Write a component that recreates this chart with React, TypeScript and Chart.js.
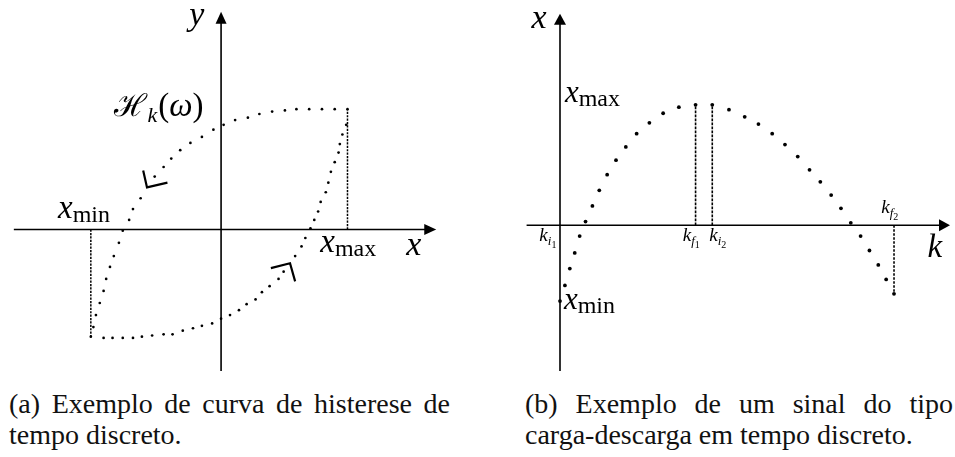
import React, { useEffect, useRef } from "react";
import { Chart, registerables } from "chart.js";

Chart.register(...registerables);

// ---------- Panel (a): discrete-time hysteresis loop ----------
// descending branch, from x_max back to x_min
const upperX = [0.99, 0.89, 0.79, 0.69, 0.59, 0.5, 0.4, 0.3, 0.21, 0.11, 0.02, -0.06, -0.15, -0.24, -0.32, -0.39, -0.45, -0.52, -0.63, -0.69, -0.72, -0.77, -0.8, -0.84, -0.87, -0.9, -0.92, -0.95, -0.98, -1.0, -1.02];
const upperY = [1.0, 1.0, 1.0, 1.0, 1.0, 0.99, 0.98, 0.96, 0.93, 0.91, 0.87, 0.83, 0.77, 0.72, 0.66, 0.59, 0.52, 0.44, 0.26, 0.17, 0.08, -0.01, -0.11, -0.22, -0.31, -0.41, -0.51, -0.61, -0.71, -0.81, -0.89];
// ascending branch, from x_min up to x_max
const lowerX = [-0.92, -0.85, -0.77, -0.69, -0.62, -0.54, -0.45, -0.38, -0.3, -0.22, -0.15, -0.07, 0.0, 0.07, 0.14, 0.2, 0.27, 0.32, 0.38, 0.45, 0.49, 0.58, 0.63, 0.66, 0.7, 0.73, 0.76, 0.78, 0.82, 0.84, 0.86, 0.89, 0.92, 0.93, 0.95, 0.98];
const lowerY = [-0.9, -0.9, -0.9, -0.9, -0.89, -0.88, -0.87, -0.87, -0.84, -0.82, -0.8, -0.78, -0.74, -0.71, -0.67, -0.62, -0.58, -0.52, -0.47, -0.41, -0.35, -0.22, -0.14, -0.07, 0.01, 0.08, 0.15, 0.23, 0.31, 0.39, 0.48, 0.56, 0.64, 0.71, 0.79, 0.87];
const loopXMax = 0.99;
const loopXMin = -1.02;
const loopTop = 1.0;
const loopBottom = -0.9;
// direction chevrons on each branch
const upperArrowX = [-0.61, -0.58, -0.42];
const upperArrowY = [0.49, 0.35, 0.39];
const lowerArrowX = [0.39, 0.54, 0.58];
const lowerArrowY = [-0.32, -0.28, -0.43];

// ---------- Panel (b): charge-discharge signal ----------
const signalK = [0, 0.5, 1.0, 1.5, 2.0, 2.6, 3.3, 4.0, 4.8, 5.7, 6.7, 7.8, 9.1, 10.5, 12.1, 13.8, 15.5, 17.2, 18.8, 20.2, 21.6, 22.9, 24.2, 25.4, 26.5, 27.6, 28.6, 29.6, 30.6, 31.5, 32.4, 33.2, 34.0];
const signalX = [-0.63, -0.5, -0.36, -0.23, -0.09, 0.03, 0.16, 0.29, 0.42, 0.54, 0.65, 0.76, 0.85, 0.93, 0.98, 1.0, 1.0, 0.96, 0.9, 0.84, 0.76, 0.67, 0.57, 0.46, 0.36, 0.25, 0.14, 0.02, -0.09, -0.21, -0.33, -0.45, -0.57];
const kf1Index = 15;
const ki2Index = 16;
const kf2Index = 32;

const FONT = '"Liberation Serif", "Times New Roman", serif';
const MI = (s: number) => `italic ${s}px ${FONT}`;
const RM = (s: number) => `${s}px ${FONT}`;
const CAL = (s: number) => `${s}px "DejaVu Serif", ${FONT}`;

type Part = { t: string; font: string; dy?: number; gap?: number };
type Label = { x: number; y: number; parts: Part[] };
type Frame = {
  xFrom: number; xTo: number; yFrom: number; yTo: number;
  head: number; half: number; labels: Label[];
};

const pts = (xs: number[], ys: number[]) => xs.map((x, i) => ({ x, y: ys[i] }));

function framePlugin(f: Frame) {
  return {
    id: "frame",
    beforeDatasetsDraw(chart: any) {
      const { ctx, scales } = chart;
      const sx = scales.x, sy = scales.y;
      const ox = sx.getPixelForValue(0), oy = sy.getPixelForValue(0);
      const x0 = sx.getPixelForValue(f.xFrom), x1 = sx.getPixelForValue(f.xTo);
      const yb = sy.getPixelForValue(f.yFrom), yt = sy.getPixelForValue(f.yTo);
      ctx.save();
      ctx.strokeStyle = "#000";
      ctx.fillStyle = "#000";
      ctx.lineWidth = 1.6;
      ctx.beginPath();
      ctx.moveTo(x0, oy);
      ctx.lineTo(x1 - f.head + 1, oy);
      ctx.moveTo(ox, yb);
      ctx.lineTo(ox, yt + f.head - 1);
      ctx.stroke();
      ctx.beginPath();
      ctx.moveTo(x1, oy);
      ctx.lineTo(x1 - f.head, oy - f.half);
      ctx.lineTo(x1 - f.head, oy + f.half);
      ctx.closePath();
      ctx.fill();
      ctx.beginPath();
      ctx.moveTo(ox, yt);
      ctx.lineTo(ox - f.half, yt + f.head);
      ctx.lineTo(ox + f.half, yt + f.head);
      ctx.closePath();
      ctx.fill();
      ctx.restore();
    },
    afterDatasetsDraw(chart: any) {
      const { ctx, scales } = chart;
      ctx.save();
      ctx.fillStyle = "#000";
      ctx.textAlign = "left";
      ctx.textBaseline = "alphabetic";
      for (const l of f.labels) {
        let cx = scales.x.getPixelForValue(l.x);
        const cy = scales.y.getPixelForValue(l.y);
        for (const p of l.parts) {
          ctx.font = p.font;
          ctx.fillText(p.t, cx, cy + (p.dy ?? 0));
          cx += ctx.measureText(p.t).width + (p.gap ?? 0);
        }
      }
      ctx.restore();
    },
  };
}

const dots = (data: any[], r: number) => ({
  data, showLine: false, pointRadius: r, pointBorderWidth: 0,
  pointBackgroundColor: "#000", borderColor: "#000",
});
const dashed = (data: any[], w: number, dash: number[]) => ({
  data, showLine: true, borderColor: "#000", borderWidth: w,
  borderDash: dash, pointRadius: 0, tension: 0,
});
const solid = (data: any[], w: number) => ({
  data, showLine: true, borderColor: "#000", borderWidth: w,
  pointRadius: 0, tension: 0,
});

function baseOptions(xMin: number, xMax: number, yMin: number, yMax: number) {
  return {
    animation: false as const,
    responsive: false,
    events: [],
    layout: { padding: 0 },
    plugins: { legend: { display: false }, tooltip: { enabled: false } },
    scales: {
      x: { type: "linear" as const, min: xMin, max: xMax, display: false },
      y: { type: "linear" as const, min: yMin, max: yMax, display: false },
    },
  };
}

const kLabel = (x: number, y: number, sub: string, idx: string): Label => ({
  x, y,
  parts: [
    { t: "k", font: MI(19) },
    { t: sub, font: MI(13), dy: 4 },
    { t: idx, font: RM(10), dy: 7 },
  ],
});

function Hysteresis() {
  const ref = useRef<HTMLCanvasElement>(null);
  useEffect(() => {
    const frame: Frame = {
      xFrom: -1.623, xTo: 1.685, yFrom: -1.175, yTo: 1.809, head: 12, half: 5.5,
      labels: [
        { x: -0.25, y: 1.7, parts: [{ t: "y", font: MI(34) }] },
        { x: 1.45, y: -0.215, parts: [{ t: "x", font: MI(34) }] },
        {
          x: -0.835, y: 0.94,
          parts: [
            { t: "\u210B", font: CAL(31) },
            { t: "k", font: MI(22), dy: 6, gap: 1 },
            { t: "(", font: RM(33) },
            { t: "\u03C9", font: MI(33) },
            { t: ")", font: RM(33) },
          ],
        },
        { x: -1.277, y: 0.1, parts: [{ t: "x", font: MI(33) }, { t: "min", font: RM(24), dy: 4 }] },
        { x: 0.777, y: -0.183, parts: [{ t: "x", font: MI(33) }, { t: "max", font: RM(24), dy: 4 }] },
      ],
    };
    const chart = new Chart(ref.current!, {
      type: "scatter",
      data: {
        datasets: [
          dots(pts(upperX, upperY), 1.35),
          dots(pts(lowerX, lowerY), 1.35),
          dashed([{ x: loopXMax, y: 0 }, { x: loopXMax, y: loopTop }], 1.5, [2.2, 1.2]),
          dashed([{ x: loopXMin, y: 0 }, { x: loopXMin, y: loopBottom }], 1.5, [2.2, 1.2]),
          solid(pts(upperArrowX, upperArrowY), 2.2),
          solid(pts(lowerArrowX, lowerArrowY), 2.2),
        ] as any,
      },
      options: baseOptions(-1.7, 1.7615, -1.175, 1.874) as any,
      plugins: [framePlugin(frame)],
    });
    return () => chart.destroy();
  }, []);
  return (
    <canvas ref={ref} width={450} height={375}
      style={{ position: "absolute", left: 0, top: 0, width: 450, height: 375 }} />
  );
}

function ChargeSignal() {
  const ref = useRef<HTMLCanvasElement>(null);
  useEffect(() => {
    const frame: Frame = {
      xFrom: -3.4, xTo: 39.7, yFrom: -1.211, yTo: 1.756, head: 11, half: 6,
      labels: [
        { x: -2.9, y: 1.634, parts: [{ t: "x", font: MI(34) }] },
        { x: 0.5, y: 1.024, parts: [{ t: "x", font: MI(31) }, { t: "max", font: RM(24), dy: 4 }] },
        { x: 0.4, y: -0.699, parts: [{ t: "x", font: MI(31) }, { t: "min", font: RM(24), dy: 4 }] },
        { x: 37.4, y: -0.26, parts: [{ t: "k", font: MI(33) }] },
        kLabel(-2.1, -0.13, "i", "1"),
        kLabel(12.5, -0.13, "f", "1"),
        kLabel(15.2, -0.13, "i", "2"),
        kLabel(32.7, 0.1, "f", "2"),
      ],
    };
    const chart = new Chart(ref.current!, {
      type: "scatter",
      data: {
        datasets: [
          dots(pts(signalK, signalX), 1.9),
          dashed([{ x: signalK[kf1Index], y: 0 }, { x: signalK[kf1Index], y: signalX[kf1Index] }], 1.6, [2.6, 1.4]),
          dashed([{ x: signalK[ki2Index], y: 0 }, { x: signalK[ki2Index], y: signalX[ki2Index] }], 1.6, [2.6, 1.4]),
          dashed([{ x: signalK[kf2Index], y: 0 }, { x: signalK[kf2Index], y: signalX[kf2Index] }], 1.6, [2.6, 1.4]),
        ] as any,
      },
      options: baseOptions(-5.7, 39.8, -1.211, 1.8374) as any,
      plugins: [framePlugin(frame)],
    });
    return () => chart.destroy();
  }, []);
  return (
    <canvas ref={ref} width={455} height={375}
      style={{ position: "absolute", left: 500, top: 0, width: 455, height: 375 }} />
  );
}

const captionFont: React.CSSProperties = {
  position: "absolute",
  fontFamily: FONT,
  fontSize: 28,
  lineHeight: "28px",
  color: "#111",
};

export default function App() {
  return (
    <div style={{ position: "fixed", left: 0, top: 0, width: 955, height: 457, background: "#fff", overflow: "hidden" }}>
      <Hysteresis />
      <ChargeSignal />
      <div style={{ ...captionFont, left: 9, top: 390, width: 441, textAlign: "justify", textAlignLast: "justify" }}>
        (a) Exemplo de curva de histerese de
      </div>
      <div style={{ ...captionFont, left: 9, top: 421 }}>tempo discreto.</div>
      <div style={{ ...captionFont, left: 525, top: 390, width: 428, textAlign: "justify", textAlignLast: "justify" }}>
        (b) Exemplo de um sinal do tipo
      </div>
      <div style={{ ...captionFont, left: 525, top: 421 }}>carga-descarga em tempo discreto.</div>
    </div>
  );
}
